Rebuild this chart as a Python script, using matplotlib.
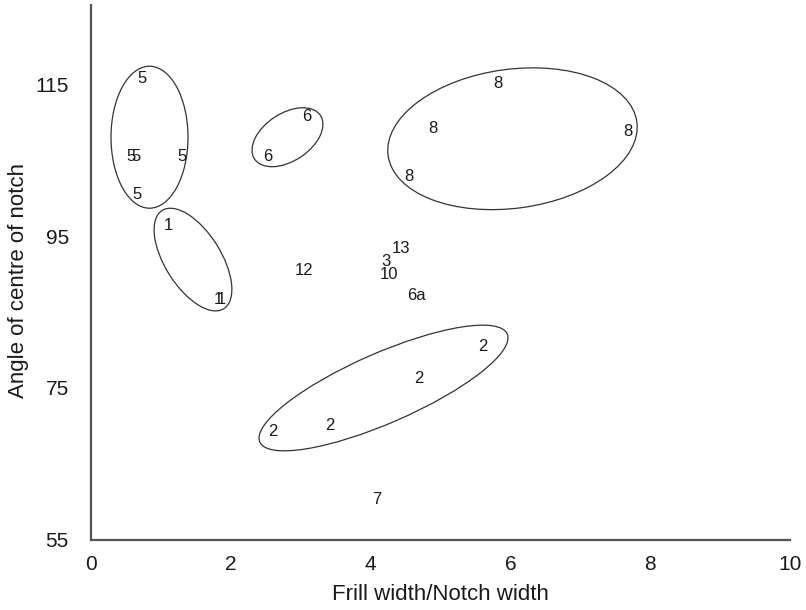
import matplotlib
matplotlib.use("Agg")
import matplotlib.pyplot as plt
from matplotlib.patches import Ellipse
from matplotlib.transforms import ScaledTranslation

plt.rcParams['font.family'] = ['Liberation Sans', 'DejaVu Sans']

# point labels (group codes) and their positions
labels = ['5', '5', '5', '5', '5',
          '1', '1', '1',
          '6', '6',
          '12', '13', '3', '10', '6a',
          '8', '8', '8', '8',
          '2', '2', '2', '2',
          '7']
frill_ratio = [0.73, 0.57, 0.64, 1.30, 0.66,
               1.10, 1.82, 1.86,
               3.09, 2.53,
               3.05, 4.43, 4.22, 4.26, 4.66,
               5.82, 4.89, 7.68, 4.55,
               5.61, 4.69, 3.42, 2.60,
               4.09]
notch_angle = [115.7, 105.5, 105.5, 105.5, 100.5,
               96.4, 86.6, 86.6,
               110.7, 105.4,
               90.4, 93.4, 91.6, 90.0, 87.2,
               115.1, 109.1, 108.8, 102.8,
               80.4, 76.2, 70.1, 69.3,
               60.3]

# group ellipses: centre in data units
ell_x = [0.837, 1.459, 2.811, 6.030, 4.185]
ell_y = [108.0, 91.9, 108.0, 107.8, 75.0]
# size in inches on the page, angle in degrees
ell_w = [0.77, 1.16, 0.79, 2.51, 2.70]
ell_h = [1.42, 0.56, 0.476, 1.39, 0.70]
ell_ang = [0, -57.9, 33.5, 7.7, 23.6]

fig = plt.figure(figsize=(8.06, 6.10), dpi=100)
ax = fig.add_axes([0.1129, 0.1148, 0.8672, 0.8770])

for lab, x, y in zip(labels, frill_ratio, notch_angle):
    ax.text(x, y, lab, ha='center', va='center', fontsize=12, color='#1a1a1a')

for cx, cy, w, h, a in zip(ell_x, ell_y, ell_w, ell_h, ell_ang):
    tr = fig.dpi_scale_trans + ScaledTranslation(cx, cy, ax.transData)
    ax.add_patch(Ellipse((0, 0), w, h, angle=a, transform=tr,
                         fill=False, edgecolor='#333333', linewidth=0.9))

ax.set_xlim(0, 10)
ax.set_ylim(55, 125.4)
ax.set_xticks([0, 2, 4, 6, 8, 10])
ax.set_yticks([55, 75, 95, 115])
ax.tick_params(axis='both', length=0, labelsize=15, colors='#1a1a1a')
ax.tick_params(axis='x', pad=11)
ax.tick_params(axis='y', pad=16)

for side in ['top', 'right']:
    ax.spines[side].set_visible(False)
for side in ['left', 'bottom']:
    ax.spines[side].set_linewidth(1.6)
    ax.spines[side].set_color('#555555')

ax.set_xlabel('Frill width/Notch width', fontsize=16, color='#1a1a1a', labelpad=7)
ax.set_ylabel('Angle of centre of notch', fontsize=16, color='#1a1a1a', labelpad=2)
ax.yaxis.set_label_coords(-0.088, 0.485)

fig.savefig('out.png', dpi=100)
